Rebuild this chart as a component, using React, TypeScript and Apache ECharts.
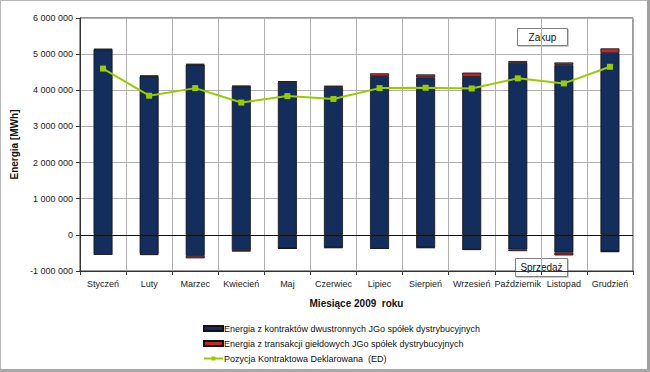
import React, { useEffect, useRef } from "react";
import * as echarts from "echarts";

const categories = ["Styczeń", "Luty", "Marzec", "Kwiecień", "Maj", "Czerwiec", "Lipiec", "Sierpień", "Wrzesień", "Październik", "Listopad", "Grudzień"];
const blueBuy = [5130000, 4390000, 4710000, 4110000, 4235000, 4090000, 4390000, 4360000, 4370000, 4760000, 4700000, 5030000];
const redBuy = [15000, 20000, 20000, 15000, 10000, 40000, 80000, 80000, 120000, 50000, 70000, 130000];
const blueSell = [-535000, -530000, -580000, -420000, -375000, -350000, -370000, -350000, -400000, -405000, -490000, -460000];
const redSell = [-10000, -30000, -70000, -45000, -5000, -10000, -10000, -10000, -15000, -45000, -80000, -10000];
const positionED = [4600000, 3850000, 4060000, 3660000, 3840000, 3760000, 4060000, 4070000, 4050000, 4330000, 4190000, 4650000];

const NAME_BLUE = "Energia z kontraktów dwustronnych JGo spółek dystrybucyjnych";
const NAME_RED = "Energia z transakcji giełdowych JGo spółek dystrybucyjnych";
const NAME_LINE = "Pozycja Kontraktowa Deklarowana  (ED)";

const BLUE = "#132d5c";
const RED = "#c0272d";
const GREEN = "#99cc00";
const FONT = "Liberation Sans";

function fmt(v: number) {
  const s = Math.abs(v).toString().replace(/\B(?=(\d{3})+(?!\d))/g, " ");
  return (v < 0 ? "-" : "") + s;
}

export default function App() {
  const ref = useRef<HTMLDivElement>(null);
  useEffect(() => {
    if (!ref.current) return;
    const chart = echarts.init(ref.current, undefined, { renderer: "svg" });
    const barCommon = {
      type: "bar",
      stack: "total",
      barWidth: 19,
      itemStyle: { borderColor: "#111", borderWidth: 0.8 },
    };
    chart.setOption({
      animation: false,
      textStyle: { fontFamily: FONT },
      grid: {
        left: 80, right: 17, top: 18, bottom: 101,
        show: true, borderColor: "#333", borderWidth: 1, backgroundColor: "transparent",
      },
      legend: {
        data: [
          { name: NAME_BLUE, icon: "rect" },
          { name: NAME_RED, icon: "rect" },
          { name: NAME_LINE },
        ],
        orient: "vertical",
        left: 198,
        top: 319,
        itemGap: 6,
        itemWidth: 19,
        itemHeight: 5,
        textStyle: { fontSize: 9, color: "#111", fontFamily: FONT, padding: [0, 0, 0, -4] },
      },
      xAxis: {
        type: "category",
        data: categories,
        boundaryGap: true,
        name: "Miesiące 2009  roku",
        nameLocation: "middle",
        nameGap: 27,
        nameTextStyle: { fontSize: 10, fontWeight: "bold", color: "#111", fontFamily: FONT },
        axisLine: { onZero: false, lineStyle: { color: "#333" } },
        axisTick: { show: true, interval: 0, length: 4, lineStyle: { color: "#333" } },
        axisLabel: { interval: 0, fontSize: 9, color: "#222", margin: 8, fontFamily: FONT },
        splitLine: { show: true, interval: 0, lineStyle: { color: "#b0b0b0", width: 1 } },
      },
      yAxis: {
        type: "value",
        min: -1000000,
        max: 6000000,
        interval: 1000000,
        name: "Energia [MWh]",
        nameLocation: "middle",
        nameGap: 56,
        nameTextStyle: { fontSize: 10, fontWeight: "bold", color: "#111", fontFamily: FONT },
        axisLine: { show: true, lineStyle: { color: "#333" } },
        axisTick: { show: true, length: 4, lineStyle: { color: "#333" } },
        axisLabel: { fontSize: 9, color: "#222", margin: 7, formatter: (v: number) => fmt(v), fontFamily: FONT },
        splitLine: { show: true, lineStyle: { color: "#b0b0b0", width: 1 } },
      },
      series: [
        { ...barCommon, name: NAME_BLUE, data: blueBuy, itemStyle: { ...barCommon.itemStyle, color: BLUE },
          markLine: {
            silent: true, symbol: "none", label: { show: false },
            lineStyle: { color: "#111", type: "solid", width: 1 },
            data: [{ yAxis: 0 }],
          } },
        { ...barCommon, name: NAME_RED, data: redBuy, itemStyle: { ...barCommon.itemStyle, color: RED } },
        { ...barCommon, name: NAME_BLUE, data: blueSell, itemStyle: { ...barCommon.itemStyle, color: BLUE } },
        { ...barCommon, name: NAME_RED, data: redSell, itemStyle: { ...barCommon.itemStyle, color: RED } },
        {
          type: "line",
          name: NAME_LINE,
          data: positionED,
          symbol: "rect",
          symbolSize: 6,
          z: 5,
          lineStyle: { color: GREEN, width: 2 },
          itemStyle: { color: GREEN },
        },
      ],
      graphic: [
        { type: "line", shape: { x1: 0.5, y1: 0, x2: 0.5, y2: 372 }, style: { stroke: "#b8b8b8", lineWidth: 1 } },
        { type: "line", shape: { x1: 0, y1: 0.5, x2: 650, y2: 0.5 }, style: { stroke: "#b8b8b8", lineWidth: 1 } },
        { type: "line", shape: { x1: 648.5, y1: 0, x2: 648.5, y2: 372 }, style: { stroke: "#a0a0a0", lineWidth: 3 } },
        { type: "line", shape: { x1: 0, y1: 370.5, x2: 650, y2: 370.5 }, style: { stroke: "#a8a8a8", lineWidth: 3 } },
        {
          type: "group", left: 517, top: 28, children: [
            { type: "rect", shape: { x: 0, y: 0, width: 50, height: 17 }, style: { fill: "#fff", stroke: "#808080", lineWidth: 1, shadowColor: "rgba(0,0,0,0.2)", shadowOffsetX: 1, shadowOffsetY: 1 } },
            { type: "text", x: 25, y: 8.5, style: { text: "Zakup", fontSize: 10, fill: "#111", align: "center", verticalAlign: "middle", fontFamily: FONT } },
          ],
        },
        {
          type: "group", left: 515, top: 258, children: [
            { type: "rect", shape: { x: 0, y: 0, width: 52, height: 18 }, style: { fill: "#fff", stroke: "#808080", lineWidth: 1, shadowColor: "rgba(0,0,0,0.2)", shadowOffsetX: 1, shadowOffsetY: 1 } },
            { type: "text", x: 26, y: 9, style: { text: "Sprzedaż", fontSize: 10, fill: "#111", align: "center", verticalAlign: "middle", fontFamily: FONT } },
          ],
        },
      ],
    });
    return () => chart.dispose();
  }, []);
  return <div ref={ref} style={{ position: "fixed", left: 0, top: 0, width: 650, height: 372, background: "#fff" }} />;
}
